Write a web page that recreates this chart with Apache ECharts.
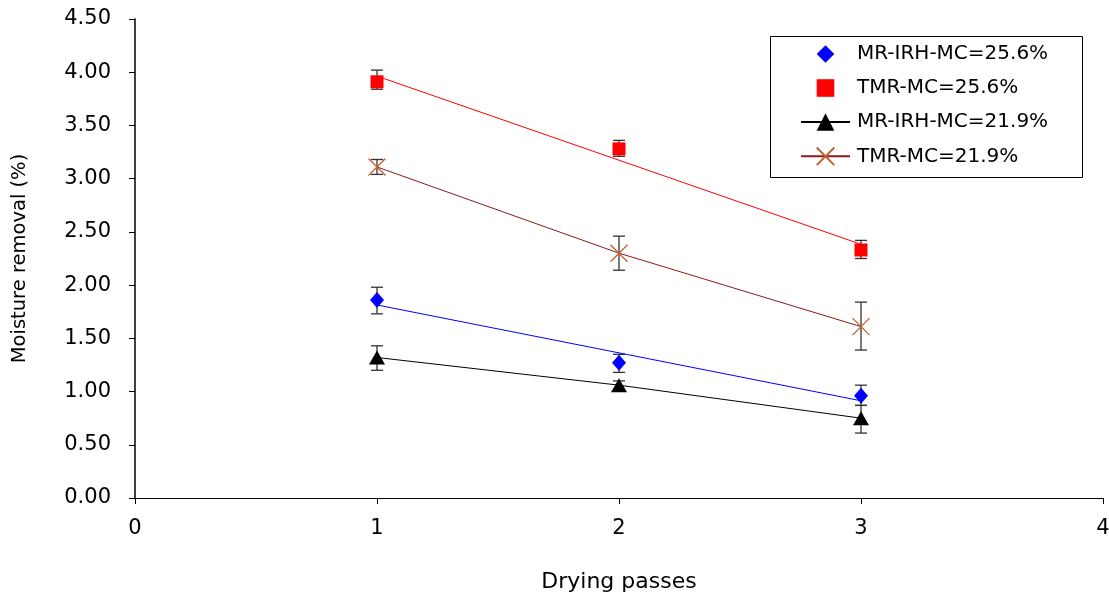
<!DOCTYPE html>
<html>
<head>
<meta charset="utf-8">
<script src="https://cdn.jsdelivr.net/npm/echarts@6/dist/echarts.min.js"></script>
<style>html,body{margin:0;padding:0;background:#fff}#c{width:1109px;height:596px}</style>
</head>
<body>
<div id="c"></div>
<script>
const passes = [1, 2, 3];
const seriesNames = ['MR-IRH-MC=25.6%', 'TMR-MC=25.6%', 'MR-IRH-MC=21.9%', 'TMR-MC=21.9%'];
const mrIrh256 = [1.86, 1.27, 0.96];
const mrIrh256Lo = [1.73, 1.18, 0.87];
const mrIrh256Hi = [1.98, 1.35, 1.06];
const tmr256 = [3.91, 3.28, 2.33];
const tmr256Lo = [3.84, 3.21, 2.25];
const tmr256Hi = [4.02, 3.36, 2.42];
const mrIrh219 = [1.32, 1.06, 0.75];
const mrIrh219Lo = [1.20, 1.02, 0.61];
const mrIrh219Hi = [1.43, 1.10, 0.87];
const tmr219 = [3.11, 2.30, 1.61];
const tmr219Lo = [3.04, 2.14, 1.39];
const tmr219Hi = [3.18, 2.46, 1.84];
const yTicks = ['0.00','0.50','1.00','1.50','2.00','2.50','3.00','3.50','4.00','4.50'];

function fit(xs, ys) {
  const n = xs.length;
  const mx = xs.reduce((a,b)=>a+b,0)/n, my = ys.reduce((a,b)=>a+b,0)/n;
  let sxy = 0, sxx = 0;
  for (let i=0;i<n;i++){ sxy += (xs[i]-mx)*(ys[i]-my); sxx += (xs[i]-mx)*(xs[i]-mx); }
  const b = sxy/sxx, a = my - b*mx;
  return [[xs[0], a+b*xs[0]], [xs[n-1], a+b*xs[n-1]]];
}
const zip = (ys) => passes.map((x,i)=>[x, ys[i]]);
const errData = (lo, hi) => passes.map((x,i)=>[x, lo[i], hi[i]]);

function errSeries(lo, hi) {
  return {
    type: 'custom', silent: true, z: 1,
    data: errData(lo, hi),
    renderItem: function(params, api) {
      const x = api.value(0);
      const p1 = api.coord([x, api.value(1)]);
      const p2 = api.coord([x, api.value(2)]);
      const w = 6;
      const st = {stroke: '#333', lineWidth: 1.3};
      return {type: 'group', children: [
        {type:'line', shape:{x1:p1[0], y1:p1[1], x2:p2[0], y2:p2[1]}, style: st},
        {type:'line', shape:{x1:p1[0]-w, y1:p1[1], x2:p1[0]+w, y2:p1[1]}, style: st},
        {type:'line', shape:{x1:p2[0]-w, y1:p2[1], x2:p2[0]+w, y2:p2[1]}, style: st}
      ]};
    }
  };
}

const FONT = '"DejaVu Sans", sans-serif';
const chart = echarts.init(document.getElementById('c'));
chart.setOption({
  animation: false,
  backgroundColor: '#fff',
  grid: {left: 135, right: 6, top: 19, bottom: 98, containLabel: false, outerBoundsMode: 'none'},
  xAxis: {
    type: 'value', min: 0, max: 4, interval: 1,
    name: 'Drying passes', nameLocation: 'middle', nameGap: 73,
    nameTextStyle: {fontFamily: FONT, fontSize: 22, color: '#000'},
    axisLine: {show: true, lineStyle: {color: '#000', width: 1}},
    axisTick: {show: true, inside: false, length: 6, lineStyle: {color: '#000'}},
    axisLabel: {fontFamily: FONT, fontSize: 21, color: '#000', margin: 20},
    splitLine: {show: false}
  },
  yAxis: {
    type: 'value', min: 0, max: 4.5, interval: 0.5,
    name: 'Moisture removal (%)', nameLocation: 'middle', nameGap: 105,
    nameTextStyle: {fontFamily: FONT, fontSize: 19.5, color: '#000'},
    axisLine: {show: true, lineStyle: {color: '#000', width: 1.5}},
    axisTick: {show: true, inside: false, length: 6, lineStyle: {color: '#000'}},
    axisLabel: {fontFamily: FONT, fontSize: 21, color: '#000', margin: 24, padding: [5, 0, 0, 0],
      formatter: (v) => yTicks[Math.round(v/0.5)]},
    splitLine: {show: false}
  },
  legend: {
    orient: 'vertical', left: 800, top: 43, padding: 0,
    data: seriesNames,
    itemWidth: 49, itemHeight: 22, itemGap: 12,
    textStyle: {fontFamily: FONT, fontSize: 20, color: '#000', lineHeight: 22, padding: [0, 0, 0, 2]},
    selectedMode: false
  },
  graphic: [{type: 'rect', shape: {x: 770.5, y: 36.5, width: 312, height: 141},
    style: {fill: 'none', stroke: '#000', lineWidth: 1}, z: 0}],
  series: [
    errSeries(mrIrh256Lo, mrIrh256Hi),
    errSeries(tmr256Lo, tmr256Hi),
    errSeries(mrIrh219Lo, mrIrh219Hi),
    errSeries(tmr219Lo, tmr219Hi),
    {type: 'line', name: 'trend1', data: fit(passes, mrIrh256), symbol: 'none',
      lineStyle: {color: '#0000ff', width: 1}, z: 2, silent: true},
    {type: 'line', name: 'trend2', data: fit(passes, tmr256), symbol: 'none',
      lineStyle: {color: '#ff0000', width: 1}, z: 2, silent: true},
    {type: 'line', name: seriesNames[0], data: zip(mrIrh256), symbol: 'diamond', symbolSize: [14, 16],
      lineStyle: {width: 0, opacity: 0}, itemStyle: {color: '#0000ff', opacity: 1}, z: 5},
    {type: 'line', name: seriesNames[1], data: zip(tmr256), symbol: 'rect', symbolSize: 13,
      lineStyle: {width: 0, opacity: 0}, itemStyle: {color: '#ff0000', opacity: 1}, z: 5},
    {type: 'line', name: seriesNames[2], data: zip(mrIrh219), symbol: 'triangle', symbolSize: [16, 14],
      lineStyle: {color: '#000', width: 1}, itemStyle: {color: '#000'}, z: 5},
    {type: 'line', name: seriesNames[3], data: zip(tmr219),
      symbol: 'path://M0,0L10,10M10,0L0,10', symbolSize: 17, symbolKeepAspect: true,
      lineStyle: {color: '#8b1a1a', width: 1},
      itemStyle: {color: 'none', borderColor: '#c0602f', borderWidth: 1.3}, z: 5}
  ]
});
</script>
</body>
</html>
